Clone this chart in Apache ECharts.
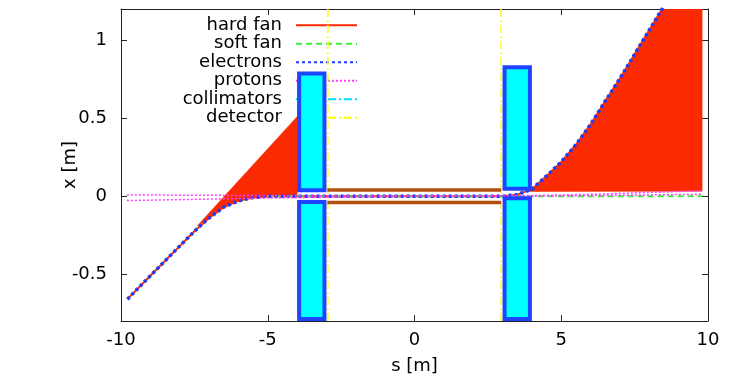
<!DOCTYPE html>
<html><head><meta charset="utf-8">
<script src="https://cdn.jsdelivr.net/npm/echarts@6/dist/echarts.min.js"></script>
<style>html,body{margin:0;padding:0;background:#fff}#c{width:732px;height:380px}</style>
</head><body><div id="c"></div>
<script>
// ---- data ----
const xTicks = [-10, -5, 0, 5, 10];
const yTicks = [-0.5, 0, 0.5, 1];
const legendNames = ['hard fan', 'soft fan', 'electrons', 'protons', 'collimators', 'detector'];

// electron trajectory [s, x]
const electronPath = [[-9.78,-0.66],[-9.0,-0.51],[-8.0,-0.32],[-7.5,-0.225],[-7.0,-0.14],[-6.5,-0.07],[-6.0,-0.03],[-5.5,-0.008],[-5.0,0],[0,0],[3.0,0],[3.5,0.01],[4.0,0.045],[4.5,0.13],[5.0,0.22],[5.5,0.33],[6.0,0.46],[6.5,0.61],[7.0,0.755],[7.5,0.91],[8.0,1.065],[8.5,1.22]];
// hard fan (photon) envelopes
const hardFanLeft = [[-7.4,-0.19],[-4.0,0.51],[-4.0,0.01],[-5.0,0.0],[-5.5,-0.008],[-6.0,-0.03],[-6.5,-0.07],[-7.0,-0.14]];
const hardFanRight = [[3.9,0.045],[4.0,0.045],[4.5,0.13],[5.0,0.22],[5.5,0.33],[6.0,0.46],[6.5,0.61],[7.0,0.755],[7.5,0.91],[8.0,1.065],[8.45,1.2],[9.8,1.2],[9.8,0.032],[3.9,0.03]];
// soft fan
const softFan = [[-5.0,0],[9.8,0]];
// protons
const protonA = [[-9.8,0.008],[-5,0.004],[0,0],[4,0.004],[6,0.012],[9.8,0.035]];
const protonB = [[-9.8,-0.028],[-5,-0.012],[0,0],[4,0.0],[6,0.004],[9.8,0.012]];
// collimator blocks [s1, s2, x1, x2]
const collimators = [[-4,-3,0.025,0.8],[-4,-3,-0.8,-0.025],[3,4,0.035,0.84],[3,4,-0.8,0.0]];
// detector positions
const detectorS = [-2.95, 2.95];
// magnet pole lines (unlabelled, brown)
const poleUpper = [[-2.97,0.04],[2.95,0.04]];
const poleLower = [[-2.97,-0.04],[2.95,-0.04]];

const FONT = 'DejaVu Sans';
const chart = echarts.init(document.getElementById('c'), null, {renderer: 'canvas'});

const axisLineStyle = {color: '#222', width: 1};
function xAx(pos, labels) {
  return {
    type: 'value', min: -10, max: 10, interval: 5, position: pos,
    axisLine: {show: true, onZero: false, lineStyle: axisLineStyle},
    axisTick: {show: true, inside: true, length: 6, lineStyle: axisLineStyle},
    axisLabel: {show: labels, fontSize: 18, color: '#000', fontFamily: FONT, margin: 10},
    splitLine: {show: false},
    name: labels ? 's [m]' : '', nameLocation: 'middle', nameGap: 36, nameMoveOverlap: false,
    nameTextStyle: {fontSize: 18, color: '#000', fontFamily: FONT}
  };
}
function yAx(pos, labels) {
  return {
    type: 'value', min: -0.8, max: 1.2, position: pos,
    axisLine: {show: true, onZero: false, lineStyle: axisLineStyle},
    axisTick: {show: true, inside: true, length: 6, lineStyle: axisLineStyle, customValues: yTicks},
    axisLabel: {show: labels, fontSize: 18, color: '#000', fontFamily: FONT, margin: 14, customValues: yTicks},
    splitLine: {show: false},
    name: labels ? 'x [m]' : '', nameLocation: 'middle', nameGap: 42, nameRotate: 90, nameMoveOverlap: false,
    nameTextStyle: {fontSize: 18, color: '#000', fontFamily: FONT}
  };
}

function polyItem(polys, z) {
  return {
    type: 'custom', name: 'hard fan region', z: z, clip: true,
    data: polys.map((p, i) => [i]),
    renderItem: function (params, api) {
      const poly = polys[api.value(0)];
      const pts = poly.map(p => api.coord(p));
      return {type: 'polygon', shape: {points: pts}, style: {fill: '#fb2a00', stroke: '#fb2a00', lineWidth: 0.5}};
    }
  };
}

const noSym = {opacity: 0};
const option = {
  animation: false,
  backgroundColor: '#fff',
  grid: {left: 121, right: 24, top: 9, bottom: 59, containLabel: false},
  legend: {
    data: legendNames, orient: 'vertical', align: 'right',
    right: 374, top: 16, padding: 0, itemGap: 0, z: 1,
    itemWidth: 61, itemHeight: 10,
    itemStyle: {opacity: 0},
    textStyle: {fontSize: 18, color: '#000', fontFamily: FONT, lineHeight: 18.5, padding: [0, 9, 0, 0]},
    selectedMode: false
  },
  xAxis: [xAx('bottom', true), xAx('top', false)],
  yAxis: [yAx('left', true), yAx('right', false)],
  series: [
    {type: 'line', name: 'hard fan', data: electronPath, symbol: 'none', z: 3,
     lineStyle: {color: '#fb2a00', width: 2, type: 'solid'}, itemStyle: {color: '#fb2a00', opacity: 0}},
    {type: 'line', name: 'soft fan', data: softFan, symbol: 'none', z: 3,
     lineStyle: {color: '#3df03d', width: 2, type: [6, 4]}, itemStyle: {color: '#3df03d', opacity: 0}},
    {type: 'line', name: 'electrons', data: electronPath, symbol: 'none', z: 4,
     lineStyle: {color: '#1a3cff', width: 3.5, type: [3, 3]}, itemStyle: {color: '#1a3cff', opacity: 0}},
    {type: 'line', name: 'protons', data: protonA, symbol: 'none', z: 4,
     lineStyle: {color: '#ff40ff', width: 1.5, type: [2, 2]}, itemStyle: {color: '#ff40ff', opacity: 0}},
    {type: 'line', name: 'protons', data: protonB, symbol: 'none', z: 4,
     lineStyle: {color: '#ff40ff', width: 1.5, type: [2, 2]}, itemStyle: {color: '#ff40ff', opacity: 0}},
    {type: 'line', name: 'collimators', data: [], symbol: 'none',
     lineStyle: {color: '#00e0ff', width: 1.5, type: [8, 3, 2, 3]}, itemStyle: {color: '#00e0ff', opacity: 0}},
    {type: 'line', name: 'detector', data: [[detectorS[0], -0.8], [detectorS[0], 1.2]], symbol: 'none', z: 2,
     lineStyle: {color: '#ffff00', width: 1.5, type: [8, 3, 2, 3]}, itemStyle: {color: '#ffff00', opacity: 0}},
    {type: 'line', name: 'detector', data: [[detectorS[1], -0.8], [detectorS[1], 1.2]], symbol: 'none', z: 2,
     lineStyle: {color: '#ffff00', width: 1.5, type: [8, 3, 2, 3]}, itemStyle: {color: '#ffff00', opacity: 0}},
    polyItem([hardFanLeft, hardFanRight], 2),
    {type: 'line', name: 'pole', data: poleUpper, symbol: 'none', z: 3,
     lineStyle: {color: '#b3500f', width: 3.5}},
    {type: 'line', name: 'pole', data: poleLower, symbol: 'none', z: 3,
     lineStyle: {color: '#b3500f', width: 3.5}},
    {type: 'custom', name: 'collimator blocks', z: 5, clip: false,
     data: collimators, encode: {x: [0, 1], y: [2, 3]},
     renderItem: function (params, api) {
       const p1 = api.coord([api.value(0), api.value(3)]);
       const p2 = api.coord([api.value(1), api.value(2)]);
       const lw = 4;
       return {type: 'rect',
         shape: {x: p1[0] + lw / 2, y: p1[1] + lw / 2, width: p2[0] - p1[0] - lw, height: p2[1] - p1[1] - lw},
         style: {fill: '#00ffff', stroke: '#1f44ff', lineWidth: lw}};
     }}
  ]
};
chart.setOption(option);
</script></body></html>
